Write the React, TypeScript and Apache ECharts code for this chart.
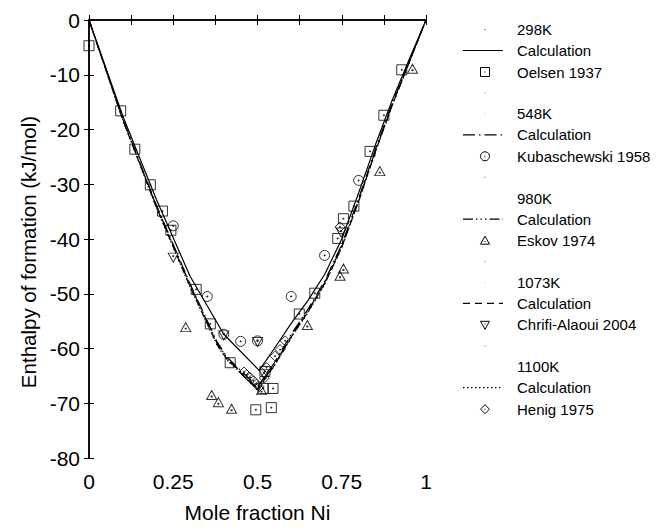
import React, { useEffect, useRef } from 'react';
import * as echarts from 'echarts';

// ---- data ----
const xTickValues = [0, 0.25, 0.5, 0.75, 1];
const xTickLabels = ['0', '0.25', '0.5', '0.75', '1'];

const calc298K = [[0, 0], [0.1, -17.5], [0.2, -32.8], [0.3, -46.8], [0.4, -57.4], [0.505, -64.0], [0.55, -60.0], [0.6, -55.4], [0.65, -51.2], [0.7, -46.4], [0.75, -40.0], [0.8, -31.6], [0.85, -22.8], [0.9, -14.6], [0.95, -7.2], [1, 0]];
const calc548K = [[0, 0], [0.1, -18.0], [0.2, -33.8], [0.3, -48.2], [0.38, -58.8], [0.41, -61.6], [0.46, -64.6], [0.5, -67.0], [0.55, -62.6], [0.6, -57.4], [0.65, -52.8], [0.7, -47.6], [0.75, -41.0], [0.8, -32.6], [0.85, -23.6], [0.9, -15.2], [0.95, -7.6], [1, 0]];
const calc980K = [[0, 0], [0.1, -18.1], [0.2, -34.0], [0.3, -48.4], [0.38, -59.0], [0.41, -61.8], [0.46, -64.8], [0.5, -67.3], [0.55, -62.9], [0.6, -57.7], [0.65, -53.1], [0.7, -47.9], [0.75, -41.3], [0.8, -32.9], [0.85, -23.9], [0.9, -15.4], [0.95, -7.7], [1, 0]];
const calc1073K = [[0, 0], [0.1, -18.2], [0.2, -34.2], [0.3, -48.7], [0.38, -59.3], [0.41, -62.0], [0.46, -65.0], [0.5, -67.5], [0.55, -63.1], [0.6, -57.9], [0.65, -53.3], [0.7, -48.1], [0.75, -41.5], [0.8, -33.1], [0.85, -24.0], [0.9, -15.5], [0.95, -7.8], [1, 0]];
const calc1100K = [[0, 0], [0.1, -18.2], [0.2, -34.3], [0.3, -48.8], [0.38, -59.4], [0.41, -62.1], [0.46, -65.1], [0.5, -67.6], [0.55, -63.2], [0.6, -58.0], [0.65, -53.4], [0.7, -48.2], [0.75, -41.6], [0.8, -33.2], [0.85, -24.1], [0.9, -15.6], [0.95, -7.8], [1, 0]];

const oelsen1937 = [[0.0, -4.7], [0.094, -16.6], [0.136, -23.6], [0.182, -30.1], [0.218, -34.9], [0.243, -38.4], [0.318, -49.2], [0.36, -55.5], [0.419, -62.6], [0.495, -71.2], [0.517, -67.3], [0.546, -67.3], [0.541, -70.8], [0.522, -64.2], [0.624, -53.7], [0.67, -49.9], [0.738, -39.9], [0.755, -36.3], [0.786, -34.0], [0.834, -24.0], [0.875, -17.4], [0.928, -9.1]];
const kubaschewski1958 = [[0.25, -37.6], [0.351, -50.5], [0.4, -57.4], [0.45, -58.7], [0.5, -58.6], [0.6, -50.5], [0.699, -43.0], [0.8, -29.3]];
const eskov1974 = [[0.287, -56.1], [0.364, -68.5], [0.384, -69.8], [0.423, -71.0], [0.512, -67.6], [0.648, -55.7], [0.745, -46.7], [0.755, -45.4], [0.863, -27.6], [0.96, -8.9]];
const chrifiAlaoui2004 = [[0.25, -43.4], [0.4, -57.6], [0.5, -58.8], [0.519, -64.7], [0.748, -38.8]];
const henig1975 = [[0.46, -64.3], [0.468, -64.8], [0.478, -65.3], [0.488, -65.9], [0.497, -66.5], [0.505, -67.0], [0.52, -65.4], [0.527, -63.5], [0.552, -61.4], [0.567, -60.2], [0.582, -58.6], [0.745, -37.8]];

const legendTemps = ['298K', '548K', '980K', '1073K', '1100K'];
const legendSources = ['Oelsen 1937', 'Kubaschewski 1958', 'Eskov 1974', 'Chrifi-Alaoui 2004', 'Henig 1975'];

// ---- styles ----
const FONT = '"Liberation Sans", Arial, Helvetica, sans-serif';
const dashes: (number[] | 'solid')[] = ['solid', [12, 4, 1.5, 4], [10, 3, 1.5, 3, 1.5, 3, 1.5, 3], [7, 5], [1.5, 2.5]];
const dot = ' M4.5,4.5 L5.5,4.5 L5.5,5.5 L4.5,5.5 Z';
const symbols = [
  'path://M0,0 L10,0 L10,10 L0,10 Z' + dot,
  'path://M0,5 A5,5 0 1,1 10,5 A5,5 0 1,1 0,5 Z' + dot,
  'path://M5,0 L10,9 L0,9 Z M4.5,5.5 L5.5,5.5 L5.5,6.5 L4.5,6.5 Z',
  'path://M0,0 L10,0 L5,9 Z M4.5,2.5 L5.5,2.5 L5.5,3.5 L4.5,3.5 Z',
  'path://M5,0 L10,5 L5,10 L0,5 Z' + dot,
];
const symbolSizes: any[] = [10, 10, [10, 9], [10, 9], 10];
const calcs = [calc298K, calc548K, calc980K, calc1073K, calc1100K];
const scatters = [oelsen1937, kubaschewski1958, eskov1974, chrifiAlaoui2004, henig1975];
const dotColors0 = ['#9400d3', '#f0e442', null, '#f0e442', null];
const dotColors3 = ['#e69f00', '#999999', '#e69f00', '#999999', null];

function legendMarker(i: number, cx: number, cy: number): any[] {
  const s = 4.5;
  const st = { fill: 'none', stroke: '#000', lineWidth: 1 };
  const d = { type: 'rect', shape: { x: cx - 0.5, y: cy - 0.5, width: 1, height: 1 }, style: { fill: '#000' } };
  if (i === 0) return [{ type: 'rect', shape: { x: cx - s, y: cy - s, width: 2 * s, height: 2 * s }, style: st }, d];
  if (i === 1) return [{ type: 'circle', shape: { cx, cy, r: s }, style: st }, d];
  if (i === 2) return [{ type: 'polygon', shape: { points: [[cx, cy - s], [cx + s, cy + s * 0.8], [cx - s, cy + s * 0.8]] }, style: st }, { ...d, shape: { x: cx - 0.5, y: cy + 0.5, width: 1, height: 1 } }];
  if (i === 3) return [{ type: 'polygon', shape: { points: [[cx - s, cy - s * 0.8], [cx + s, cy - s * 0.8], [cx, cy + s]] }, style: st }, { ...d, shape: { x: cx - 0.5, y: cy - 1.5, width: 1, height: 1 } }];
  return [{ type: 'polygon', shape: { points: [[cx, cy - s], [cx + s, cy], [cx, cy + s], [cx - s, cy]] }, style: st }, d];
}

function buildLegend(): any[] {
  const els: any[] = [];
  const textX = 517;
  const symX = 485;
  for (let g = 0; g < 5; g++) {
    const base = 29.5 + 84.3 * g;
    const rows = [base, base + 21, base + 42.5, base + 63.5];
    const txt = (t: string, y: number) => ({ type: 'text', x: textX, y, style: { text: t, font: `15px ${FONT}`, fill: '#000', verticalAlign: 'middle', align: 'left' } });
    els.push(txt(legendTemps[g], rows[0]));
    els.push(txt('Calculation', rows[1]));
    els.push(txt(legendSources[g], rows[2]));
    const dash = dashes[g];
    els.push({ type: 'line', shape: { x1: 463, y1: rows[1], x2: 503, y2: rows[1] }, style: { stroke: '#000', lineWidth: 1.2, lineDash: dash === 'solid' ? null : dash } });
    els.push(...legendMarker(g, symX, rows[2]));
    if (dotColors0[g]) els.push({ type: 'rect', shape: { x: symX - 0.6, y: rows[0] - 0.6, width: 1.2, height: 1.2 }, style: { fill: dotColors0[g] } });
    if (g < 4 && dotColors3[g]) els.push({ type: 'rect', shape: { x: symX - 0.6, y: rows[3] - 0.6, width: 1.2, height: 1.2 }, style: { fill: dotColors3[g] } });
  }
  return els;
}

export default function App() {
  const ref = useRef<HTMLDivElement>(null);
  useEffect(() => {
    document.body.style.margin = '0';
    const chart = echarts.init(ref.current!, null, { renderer: 'svg' });
    const axisCommon = {
      axisLine: { show: true, lineStyle: { color: '#000', width: 1.5 } },
      axisTick: { show: true, inside: true, length: 5, lineStyle: { color: '#000', width: 1 } },
      splitLine: { show: false },
    };
    const series: any[] = [];
    for (let i = 0; i < 5; i++) {
      series.push({
        name: legendTemps[i] + ' Calculation',
        type: 'line',
        data: calcs[i],
        symbol: 'none',
        smooth: false,
        lineStyle: { color: '#000', width: 1.2, type: dashes[i] },
        z: 2,
      });
    }
    for (let i = 0; i < 5; i++) {
      series.push({
        name: legendSources[i],
        type: 'scatter',
        data: scatters[i],
        symbol: symbols[i],
        symbolSize: symbolSizes[i],
        itemStyle: { color: 'transparent', borderColor: '#000', borderWidth: 1 },
        z: 3,
      });
    }
    chart.setOption({
      animation: false,
      backgroundColor: '#fff',
      textStyle: { fontFamily: FONT },
      grid: { left: 89, top: 20, right: 231, bottom: 67, containLabel: false },
      xAxis: [
        {
          type: 'value', min: 0, max: 1, interval: 0.125, position: 'bottom',
          name: 'Mole fraction Ni', nameLocation: 'middle', nameGap: 44,
          nameTextStyle: { fontSize: 21, color: '#000', fontFamily: FONT },
          axisLabel: {
            color: '#000', fontSize: 21, margin: 13, fontFamily: FONT,
            formatter: (v: number) => {
              const k = xTickValues.findIndex((t) => Math.abs(t - v) < 1e-6);
              return k >= 0 ? xTickLabels[k] : '';
            },
          },
          ...axisCommon,
        },
        {
          type: 'value', min: 0, max: 1, interval: 0.125, position: 'top',
          axisLabel: { show: false },
          ...axisCommon,
        },
      ],
      yAxis: [
        {
          type: 'value', min: -80, max: 0, interval: 10, position: 'left',
          name: 'Enthalpy of formation (kJ/mol)', nameLocation: 'middle', nameGap: 47,
          nameTextStyle: { fontSize: 20.5, color: '#000', fontFamily: FONT, padding: [0, 26, 0, 0] },
          axisLabel: { color: '#000', fontSize: 21, margin: 9, fontFamily: FONT },
          ...axisCommon,
        },
        {
          type: 'value', min: -80, max: 0, interval: 10, position: 'right',
          axisLabel: { show: false },
          ...axisCommon,
        },
      ],
      graphic: buildLegend(),
      series,
    });
    return () => chart.dispose();
  }, []);
  return <div ref={ref} style={{ width: 657, height: 528 }} />;
}
